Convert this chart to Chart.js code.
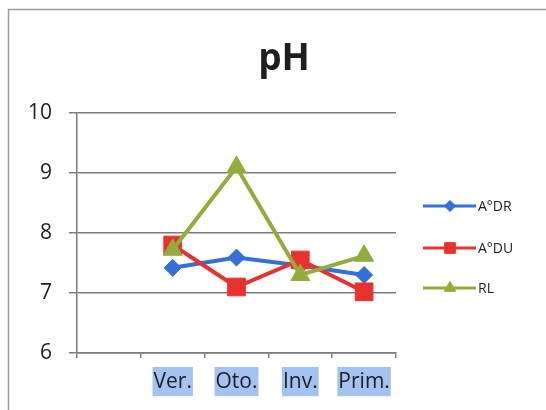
<!DOCTYPE html>
<html>
<head>
<meta charset="utf-8">
<title>pH</title>
<script src="https://cdn.jsdelivr.net/npm/chart.js@4/dist/chart.umd.min.js"></script>
<style>
  html, body { margin: 0; padding: 0; background: #ffffff; }
  #wrap { width: 546px; height: 410px; }
</style>
</head>
<body>
<div id="wrap"><canvas id="c" width="546" height="410"></canvas></div>
<script>
// Seasons (first slot left empty, as in the worksheet)
const seasons = ['', 'Ver.', 'Oto.', 'Inv.', 'Prim.'];
// pH per sampling site
const adr = [null, 7.42, 7.59, 7.46, 7.30];
const adu = [null, 7.80, 7.10, 7.55, 7.02];
const rl  = [null, 7.72, 9.10, 7.30, 7.62];
const seriesNames = ['A°DR', 'A°DU', 'RL'];
const yTicks = [6, 7, 8, 9, 10];
const chartTitle = 'pH';

const FONT = "'Open Sans', 'DejaVu Sans', sans-serif";
const BLUE = '#3470d6';
const RED = '#e8322f';
const GREEN = '#92ad3c';
const AXIS = '#7c7c7c';

// later series are painted over earlier ones
const styles = [
  { color: BLUE, point: 'rectRot', r: 8.5, lr: 5.5, order: 2 },
  { color: RED, point: 'rect', r: 12.5, lr: 7.5, order: 1 },
  { color: GREEN, point: 'triangle', r: 11, lr: 6.5, order: 0 }
];

// Frame, title and the line-with-marker legend on the right
const decor = {
  id: 'decor',
  beforeDraw(chart) {
    const ctx = chart.ctx;
    ctx.save();
    ctx.fillStyle = '#ffffff';
    ctx.fillRect(0, 0, chart.width, chart.height);
    ctx.strokeStyle = '#9a9a9a';
    ctx.lineWidth = 1.5;
    ctx.beginPath();
    ctx.moveTo(8.5, chart.height);
    ctx.lineTo(8.5, 9.5);
    ctx.lineTo(chart.width, 9.5);
    ctx.stroke();
    ctx.restore();
  },
  afterDraw(chart) {
    const ctx = chart.ctx;
    ctx.save();
    ctx.fillStyle = '#1e1e1e';
    ctx.font = "bold 37px " + FONT;
    ctx.textAlign = 'center';
    ctx.textBaseline = 'alphabetic';
    ctx.fillText(chartTitle, 284, 70);

    const ys = [206, 248, 288];
    chart.data.datasets.forEach((ds, i) => {
      const y = ys[i];
      const st = styles[i];
      ctx.strokeStyle = st.color;
      ctx.lineWidth = 3;
      ctx.beginPath();
      ctx.moveTo(423, y);
      ctx.lineTo(476, y);
      ctx.stroke();
      ctx.fillStyle = st.color;
      ctx.strokeStyle = st.color;
      ctx.lineWidth = 1;
      Chart.helpers.drawPoint(ctx, { pointStyle: st.point, radius: st.lr, rotation: 0, borderWidth: 1 }, 450, y);
      ctx.fill();
      ctx.fillStyle = '#1e1e1e';
      ctx.font = "14px " + FONT;
      ctx.textAlign = 'left';
      ctx.textBaseline = 'middle';
      ctx.fillText(ds.label, 478, y + 1);
    });
    ctx.restore();
  }
};

const makeSet = (label, data, st) => ({
  label,
  data,
  order: st.order,
  borderColor: st.color,
  backgroundColor: st.color,
  borderWidth: 4,
  pointStyle: st.point,
  pointRadius: st.r,
  pointHoverRadius: st.r,
  pointBorderWidth: 1,
  pointBorderColor: st.color,
  pointBackgroundColor: st.color,
  tension: 0
});

new Chart(document.getElementById('c'), {
  type: 'line',
  data: {
    labels: seasons,
    datasets: [
      makeSet(seriesNames[0], adr, styles[0]),
      makeSet(seriesNames[1], adu, styles[1]),
      makeSet(seriesNames[2], rl, styles[2])
    ]
  },
  options: {
    responsive: false,
    devicePixelRatio: 1,
    animation: false,
    layout: { padding: { top: 113, right: 150, left: 0, bottom: 0 } },
    plugins: {
      legend: { display: false },
      title: { display: false },
      tooltip: { enabled: false }
    },
    scales: {
      x: {
        type: 'category',
        offset: true,
        afterFit(scale) { scale.height = 57; },
        grid: { display: true, drawOnChartArea: false, drawTicks: true, tickLength: 5, offset: true, color: AXIS, lineWidth: 1.5 },
        border: { display: true, color: AXIS, width: 1.5 },
        ticks: {
          color: '#1e1e1e',
          font: { family: FONT, size: 21 },
          padding: 11,
          maxRotation: 0,
          autoSkip: false,
          showLabelBackdrop: (ctx) => ctx.index > 0,
          backdropColor: '#a5c3f2',
          backdropPadding: { x: 1, y: 2 }
        }
      },
      y: {
        min: 6,
        max: 10,
        afterFit(scale) { scale.width = 77; },
        afterBuildTicks(scale) { scale.ticks = yTicks.map(v => ({ value: v })); },
        grid: { color: AXIS, lineWidth: 1.5, tickLength: 8, drawTicks: true },
        border: { display: true, color: AXIS, width: 1.5 },
        ticks: {
          stepSize: 1,
          color: '#1e1e1e',
          font: { family: FONT, size: 21 },
          padding: 17
        }
      }
    }
  },
  plugins: [decor]
});
</script>
</body>
</html>
